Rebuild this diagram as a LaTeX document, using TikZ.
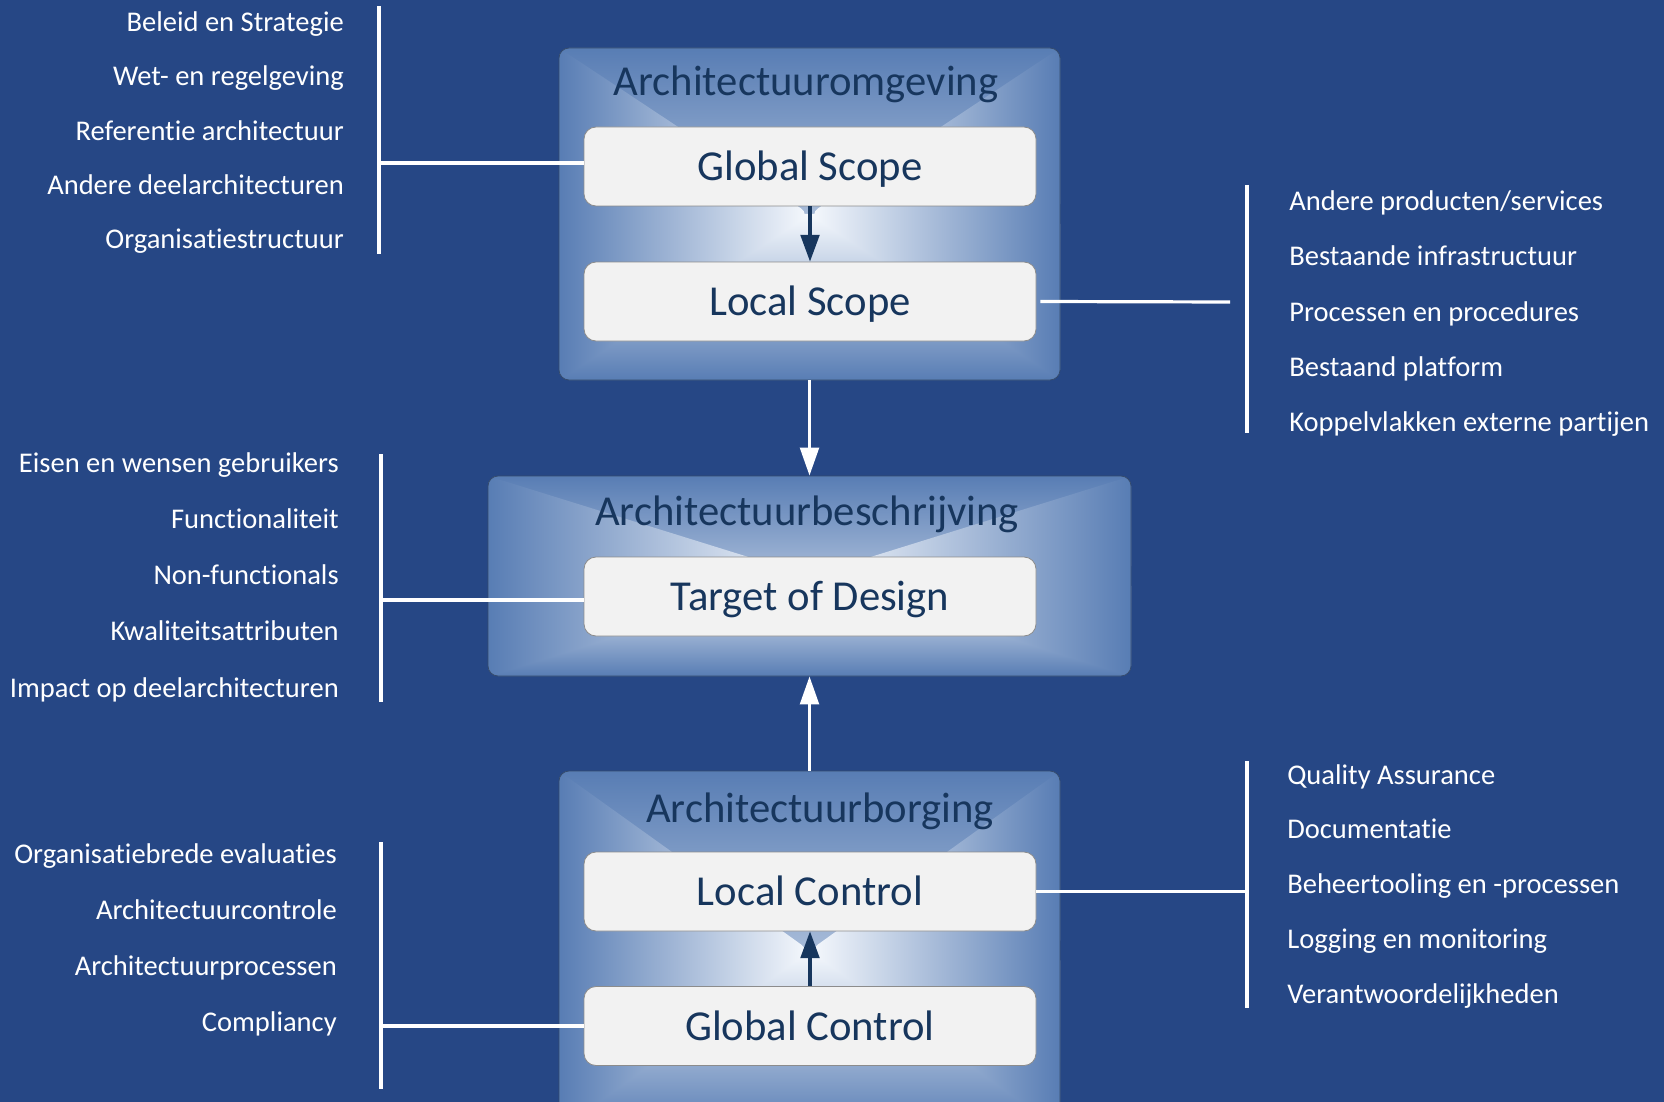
\documentclass[tikz,border=0pt]{standalone}
\usepackage{fontspec}
\setmainfont{Carlito}[Ligatures=NoCommon, RawFeature={-liga;-clig;-calt;-dlig}]
\usetikzlibrary{arrows.meta}

\definecolor{bgblue}{RGB}{38,71,133}
\definecolor{edgeblue}{RGB}{88,125,180}
\definecolor{centreblue}{RGB}{246,249,253}
\definecolor{navy}{RGB}{23,54,93}
\definecolor{boxgrey}{RGB}{242,242,242}

\tikzset{
	phase/.style={draw=edgeblue!60!black, line width=0.6pt, rounded corners=7.5pt, fill=edgeblue,
		path picture={
			\shade[top color=edgeblue, bottom color=centreblue] (path picture bounding box.north west) rectangle (path picture bounding box.east);
			\shade[bottom color=edgeblue, top color=centreblue] (path picture bounding box.west) rectangle (path picture bounding box.south east);
			\shade[left color=edgeblue, right color=centreblue] (path picture bounding box.north west) -- (path picture bounding box.south west) -- (path picture bounding box.center) -- cycle;
			\shade[right color=edgeblue, left color=centreblue] (path picture bounding box.north east) -- (path picture bounding box.south east) -- (path picture bounding box.center) -- cycle;
		}},
	phasetitle/.style={text=navy, font=\fontsize{32}{38}\selectfont, inner sep=0pt, anchor=base},
	scopebox/.style={draw=black!45, line width=0.6pt, fill=boxgrey, rounded corners=9pt, minimum width=339pt, minimum height=59.25pt,
		text=navy, font=\fontsize{32}{38}\selectfont, text height=21pt, text depth=0pt},
	item/.style={text=white, font=\fontsize{21.4}{25}\selectfont, inner sep=0pt},
	bar/.style={draw=white, line width=2.4pt},
	whitearrow/.style={draw=white, line width=2.5pt, -{Triangle[width=14pt, length=21pt]}},
	navyarrow/.style={draw=navy, line width=2.3pt, -{Triangle[width=14pt, length=20pt]}},
}

\begin{document}
\begin{tikzpicture}[x=0.75pt, y=-0.75pt]
	\useasboundingbox (0,0) rectangle (1664,1102);
	\fill[bgblue] (0,0) rectangle (1664,1102);

	% the three phases
	\node[phase, minimum width=375.75pt, minimum height=249pt] (omg) at (809.5,214) {};
	\node[phase, minimum width=482.25pt, minimum height=150pt] (besch) at (809.5,576) {};
	\node[phase, minimum width=375.75pt, minimum height=269.25pt] (borg) at (809.5,950.5) {};

	\node[phasetitle] (omgtitle) at (806,96) {Architectuuromgeving};
	\node[phasetitle] (beschtitle) at (807,525) {Architectuurbeschrijving};
	\node[phasetitle] (borgtitle) at (820,822) {Architectuurborging};

	\node[scopebox] (gscope) at (810,166.5) {Global Scope};
	\node[scopebox] (lscope) at (810,301.5) {Local Scope};
	\node[scopebox] (tod) at (810,596.5) {Target of Design};
	\node[scopebox] (lctrl) at (810,891.5) {Local Control};
	\node[scopebox] (gctrl) at (810,1026) {Global Control};

	\draw[navyarrow] (gscope) -- (lscope);
	\draw[navyarrow] (gctrl) -- (lctrl);
	\draw[whitearrow] (omg.south) -- (besch.north);
	\draw[whitearrow] (borg.north) -- (besch.south);

	% lists left and right
	\foreach \txt [count=\i] in {Beleid en Strategie, Wet- en regelgeving, Referentie architectuur, Andere deelarchitecturen, Organisatiestructuur}
		\node[item, anchor=base east] (omgl\i) at (344, {31.5+54.3*(\i-1)}) {\txt};
	\foreach \txt [count=\i] in {Andere producten/services, Bestaande infrastructuur, Processen en procedures, Bestaand platform, Koppelvlakken externe partijen}
		\node[item, anchor=base west] (omgr\i) at (1289, {211+55*(\i-1)}) {\txt};
	\foreach \txt [count=\i] in {Eisen en wensen gebruikers, Functionaliteit, Non-functionals, Kwaliteitsattributen, Impact op deelarchitecturen}
		\node[item, anchor=base east] (beschl\i) at (339, {472+56.25*(\i-1)}) {\txt};
	\foreach \txt [count=\i] in {Quality Assurance, Documentatie, Beheertooling en -processen, Logging en monitoring, Verantwoordelijkheden}
		\node[item, anchor=base west] (borgr\i) at (1287, {784+54.75*(\i-1)}) {\txt};
	\foreach \txt [count=\i] in {Organisatiebrede evaluaties, Architectuurcontrole, Architectuurprocessen, Compliancy}
		\node[item, anchor=base east] (borgl\i) at (337, {863+56.3*(\i-1)}) {\txt};

	% brackets
	\draw[bar] (379,6) coordinate (omgltop) -- (379,254);
	\draw[bar] (1247,185) coordinate (omgrtop) -- (1247,433);
	\draw[bar] (381,454) coordinate (beschltop) -- (381,702);
	\draw[bar] (1247,761) coordinate (borgrtop) -- (1247,1008);
	\draw[bar] (381,842) coordinate (borgltop) -- (381,1089);

	\coordinate (lsend) at (1230,302);
	\draw[bar] ([yshift=2.6pt]gscope.west) -- ([yshift=2.6pt]gscope.west -| omgltop);
	\draw[bar] ([xshift=3pt]lscope.east) -- (lsend);
	\draw[bar] ([yshift=-2.6pt]tod.west) -- ([yshift=-2.6pt]tod.west -| beschltop);
	\draw[bar] (lctrl.east) -- (lctrl.east -| borgrtop);
	\draw[bar] (gctrl.west) -- (gctrl.west -| borgltop);
\end{tikzpicture}
\end{document}
